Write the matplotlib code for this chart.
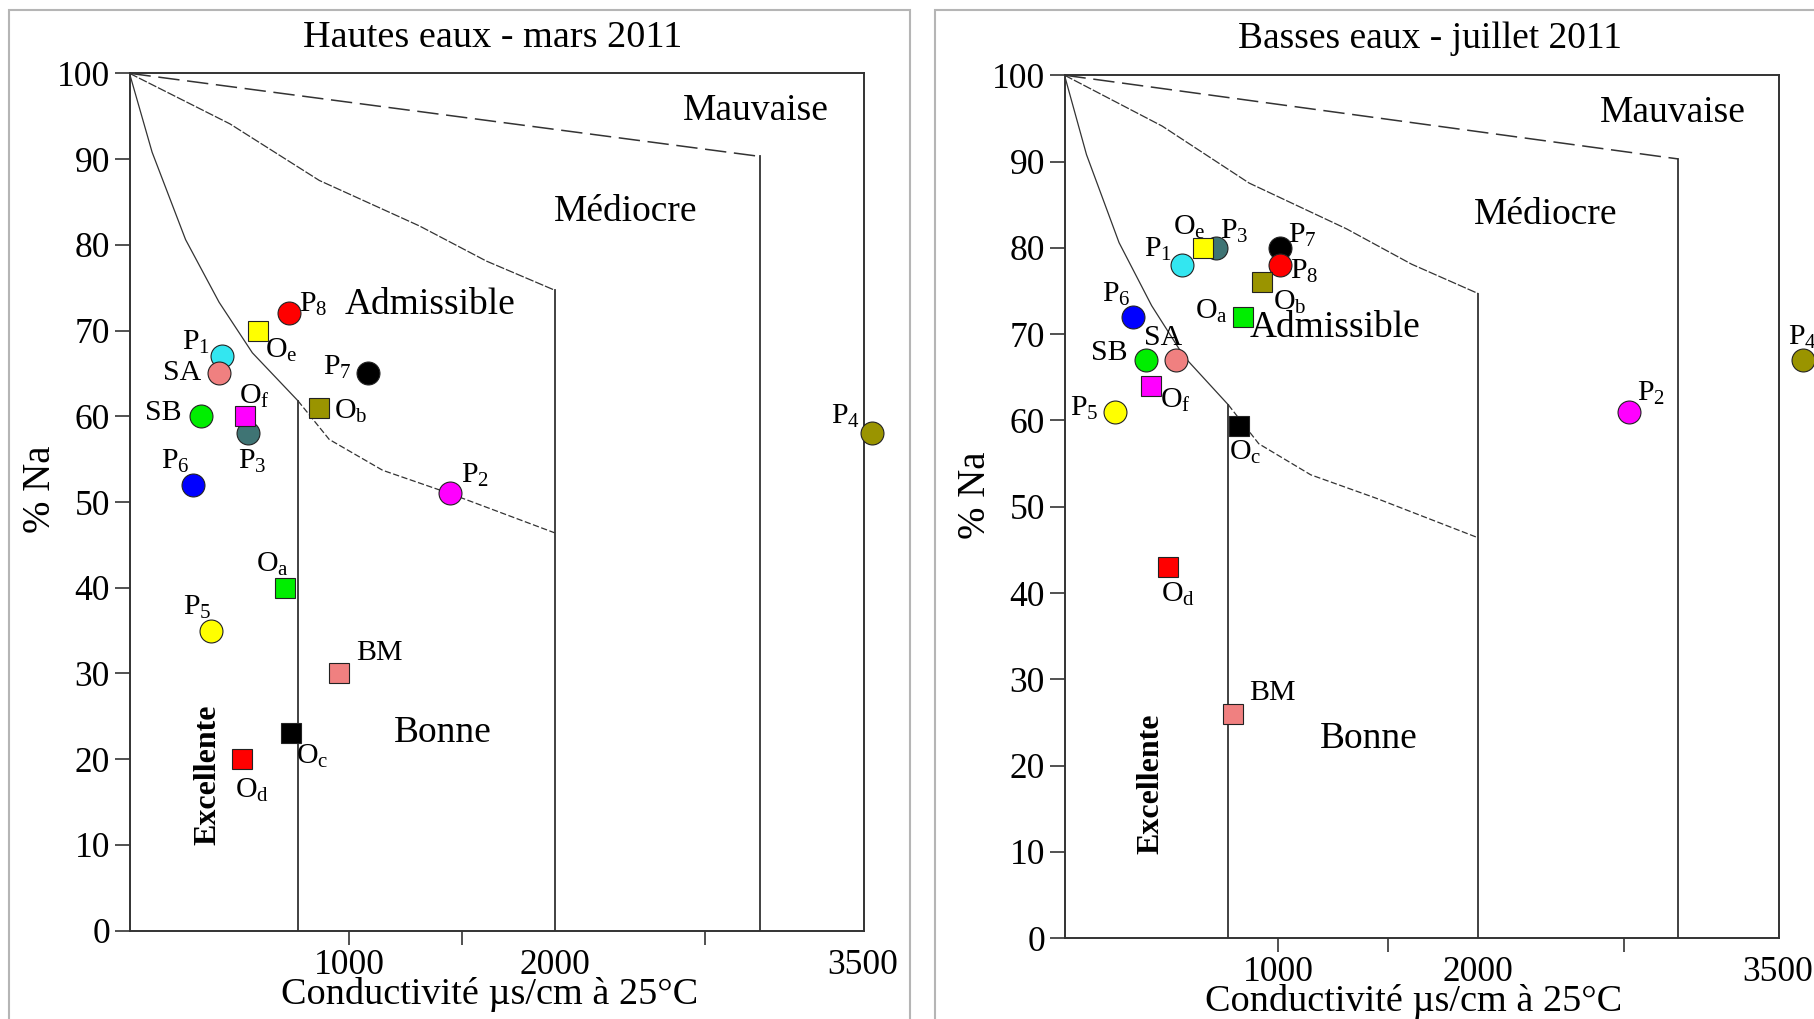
import matplotlib
matplotlib.use('Agg')
import matplotlib.pyplot as plt
from matplotlib.patches import Rectangle

plt.rcParams['font.family'] = 'Liberation Serif'
plt.rcParams['mathtext.fontset'] = 'custom'
plt.rcParams['mathtext.rm'] = 'Liberation Serif'
plt.rcParams['mathtext.it'] = 'Liberation Serif:italic'

# stations (circles = P, SA, SB ; squares = O, BM)
stations = ['P1', 'P2', 'P3', 'P4', 'P5', 'P6', 'P7', 'P8', 'SA', 'SB',
            'Oa', 'Ob', 'Oc', 'Od', 'Oe', 'Of', 'BM']

# hautes eaux - mars 2011
cond_mars = [379, 1488, 507, 3542, 325, 241, 1089, 705, 366, 277,
             687, 850, 717, 476, 555, 491, 949]
na_mars = [67, 51, 58, 58, 35, 52, 65, 72, 65, 60,
           40, 61, 23, 20, 70, 60, 30]

# basses eaux - juillet 2011
cond_juil = [516, 2756, 687, 3623, 184, 273, 1006, 1006, 487, 340,
             824, 919, 801, 449, 624, 361, 775]
na_juil = [78, 61, 80, 67, 61, 72, 80, 78, 67, 67,
           72, 76, 59.3, 43, 80, 64, 26]

# Wilcox class limits
top_x = [-70, 3000]
top_y = [100, 90.3]
mid_x = [-70, 419, 854, 1341, 1667, 2000]
mid_y = [100, 94.1, 87.5, 82.2, 78.1, 74.7]
exc_x = [-70, 40, 203, 366, 528, 750]
exc_y = [100, 90.8, 80.6, 73.3, 67.4, 61.8]
bon_x = [750, 902, 1162, 1488, 2000]
bon_y = [61.8, 57.3, 53.7, 51.0, 46.4]
lim_cond = [750, 2000, 3000]
lim_na = [61.8, 74.7, 90.3]

style = {
    'P1': ('o', '#33e6f0'), 'P2': ('o', '#ff00ff'), 'P3': ('o', '#3f7474'),
    'P4': ('o', '#9a9400'), 'P5': ('o', '#ffff00'), 'P6': ('o', '#0000ff'),
    'P7': ('o', '#000000'), 'P8': ('o', '#ff0000'), 'SA': ('o', '#f08080'),
    'SB': ('o', '#00ee00'), 'Oa': ('s', '#00ee00'), 'Ob': ('s', '#9a9400'),
    'Oc': ('s', '#000000'), 'Od': ('s', '#ff0000'), 'Oe': ('s', '#ffff00'),
    'Of': ('s', '#ff00ff'), 'BM': ('s', '#f08080'),
}

labels = {}
for s in stations:
    if s in ('SA', 'SB', 'BM'):
        labels[s] = s
    elif s[0] == 'P':
        labels[s] = 'P$_{' + s[1] + '}$'
    else:
        labels[s] = 'O$_{\\mathrm{' + s[1] + '}}$'

# label offsets in pixels (x right, y up)
off_mars = {'P1': (-26, 14), 'P2': (25, 18), 'P3': (4, -28), 'P4': (-26, 17),
            'P5': (-13, 23), 'P6': (-18, 23), 'P7': (-30, 6), 'P8': (24, 9),
            'SA': (-37, 0), 'SB': (-37, 3), 'Oa': (-13, 23), 'Ob': (32, -4),
            'Oc': (21, -23), 'Od': (10, -31), 'Oe': (23, -20), 'Of': (10, 20),
            'BM': (41, 20)}
off_juil = {'P1': (-24, 16), 'P2': (22, 18), 'P3': (18, 16), 'P4': (0, 23),
            'P5': (-31, 3), 'P6': (-17, 22), 'P7': (23, 12), 'P8': (25, -6),
            'SA': (-13, 22), 'SB': (-37, 7), 'Oa': (-32, 5), 'Ob': (28, -20),
            'Oc': (7, -26), 'Od': (10, -27), 'Oe': (-14, 20), 'Of': (25, -14),
            'BM': (39, 21)}

W, H = 1814, 1019
fig = plt.figure(figsize=(W / 100, H / 100), dpi=100)

# panel frames
fig.patches.append(Rectangle((9 / W, -0.1), (910 - 9) / W, 1.1 - 10 / H,
                             transform=fig.transFigure, fill=False,
                             edgecolor='#b5b5b5', lw=1.5))
fig.patches.append(Rectangle((935 / W, -0.1), 0.5, 1.1 - 10 / H,
                             transform=fig.transFigure, fill=False,
                             edgecolor='#b5b5b5', lw=1.5))

line_col = '#333333'


def panel(rect, cond, na, offsets, zones):
    ax = fig.add_axes(rect)
    ax.set_xlim(-70, 3505)
    ax.set_ylim(0, 100)
    for sp in ax.spines.values():
        sp.set_color(line_col)
        sp.set_linewidth(1.4)

    ax.plot(top_x, top_y, color=line_col, lw=1.1, dashes=(14, 5))
    ax.plot(mid_x, mid_y, color=line_col, lw=0.9, dashes=(7, 1.5))
    ax.plot(exc_x, exc_y, color=line_col, lw=0.9)
    ax.plot(bon_x, bon_y, color=line_col, lw=0.9, dashes=(5, 2))
    for xc, yc in zip(lim_cond, lim_na):
        ax.plot([xc, xc], [0, yc], color=line_col, lw=1.3)

    for i, s in enumerate(stations):
        mk, col = style[s]
        ax.plot(cond[i], na[i], marker=mk, ms=16.5 if mk == 'o' else 15,
                mfc=col, mec='#222222', mew=0.8, ls='none', clip_on=False,
                zorder=3)
        dx, dy = offsets[s]
        ax.annotate(labels[s], (cond[i], na[i]), xytext=(dx * 0.72, dy * 0.72),
                    textcoords='offset points', ha='center', va='center',
                    fontsize=21.5, annotation_clip=False, zorder=4)

    for name in ('Mauvaise', 'Médiocre', 'Admissible', 'Bonne'):
        ax.text(zones[name][0], zones[name][1], name,
                fontsize=27, ha='center', va='center')
    ax.text(zones['Excellente'][0], zones['Excellente'][1], 'Excellente',
            fontsize=23, ha='center', va='center', rotation=90,
            fontweight='bold')

    ax.set_yticks(range(0, 101, 10))
    ax.set_xticks([1000, 1550, 2000, 2730, 3500])
    ax.set_xticklabels(['1000', '', '2000', '', '3500'])
    ax.tick_params(axis='y', labelsize=25.5, length=11, width=1.2,
                   color=line_col, pad=3)
    ax.tick_params(axis='x', labelsize=25.5, length=10, width=1.2,
                   color=line_col, pad=3)
    for t in ax.xaxis.get_major_ticks():
        if t.get_loc() in (2000, 3500):
            t.tick1line.set_visible(False)
    return ax


panel([129.5 / W, 1 - 930.7 / H, (864 - 129.5) / W, (930.7 - 73.3) / H],
      cond_mars, na_mars, off_mars,
      {'Mauvaise': (2976, 95.6), 'Médiocre': (2346, 83.8),
       'Admissible': (1394, 73.0), 'Bonne': (1455, 23.1),
       'Excellente': (312, 18.2)})
panel([1064.5 / W, 1 - 938.3 / H, (1779 - 1064.5) / W, (938.3 - 75.2) / H],
      cond_juil, na_juil, off_juil,
      {'Mauvaise': (2974, 95.6), 'Médiocre': (2338, 83.8),
       'Admissible': (1283, 70.7), 'Bonne': (1452, 23.1),
       'Excellente': (363, 17.9)})

fig.text(493 / W, 1 - 47 / H, 'Hautes eaux - mars 2011', fontsize=27.5,
         ha='center', va='baseline')
fig.text(1430 / W, 1 - 48.5 / H, 'Basses eaux - juillet 2011', fontsize=27,
         ha='center', va='baseline')
fig.text(40.5 / W, 1 - 489 / H, '% Na', fontsize=28, rotation=90,
         ha='center', va='center')
fig.text(975.4 / W, 1 - 495 / H, '% Na', fontsize=28, rotation=90,
         ha='center', va='center')
fig.text(489.4 / W, 1 - 1004 / H, 'Conductivité µs/cm à 25°C', fontsize=27.5,
         ha='center', va='baseline')
fig.text(1414 / W, 1 - 1011 / H, 'Conductivité µs/cm à 25°C', fontsize=27.5,
         ha='center', va='baseline')

fig.savefig('out.png', dpi=100)
